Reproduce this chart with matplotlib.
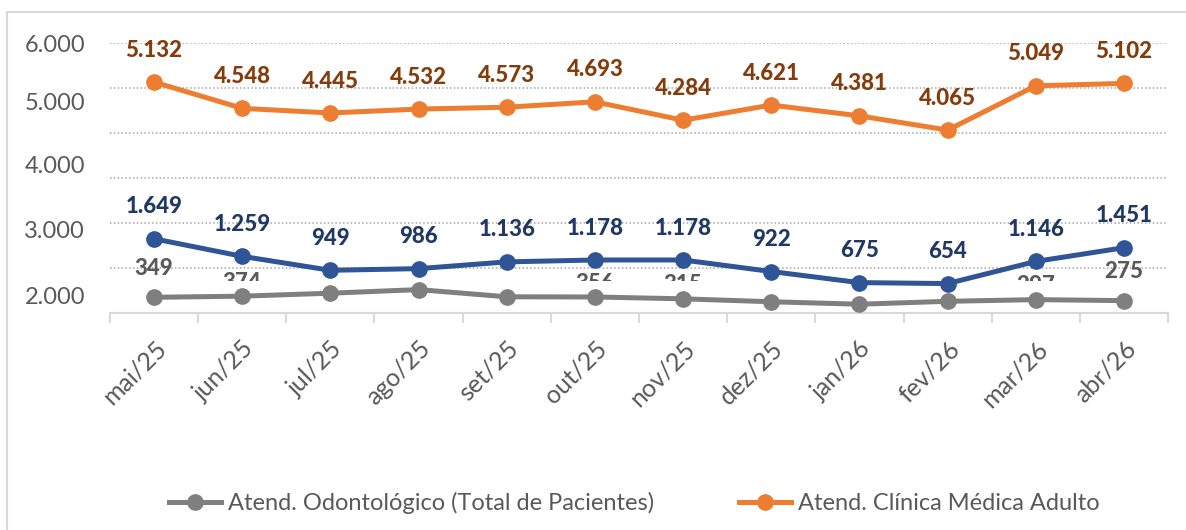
import matplotlib
matplotlib.use("Agg")
import matplotlib.pyplot as plt
from matplotlib.patches import Rectangle
from matplotlib.lines import Line2D

plt.rcParams['font.family'] = ['Lato', 'DejaVu Sans']

# data
meses = ['mai/25', 'jun/25', 'jul/25', 'ago/25', 'set/25', 'out/25',
         'nov/25', 'dez/25', 'jan/26', 'fev/26', 'mar/26', 'abr/26']
clinica = [5132, 4548, 4445, 4532, 4573, 4693, 4284, 4621, 4381, 4065, 5049, 5102]
terceira = [1649, 1259, 949, 986, 1136, 1178, 1178, 922, 675, 654, 1146, 1451]
odonto = [349, 374, 440, 520, 360, 356, 315, 250, 195, 260, 297, 275]

# which gray labels show up, and which are only half visible
odonto_full = [0, 11]
odonto_cut = [1, 5, 6, 10]

# y labels as they sit in the picture
ytick_pos = [6000, 4710, 3290, 1845, 400]
ytick_txt = ['6.000', '5.000', '4.000', '3.000', '2.000']

laranja = '#ED7D31'
azul = '#2F5597'
cinza = '#7F7F7F'


def fmt(v):
    return f"{v:,}".replace(',', '.')


def main():
    fig = plt.figure(figsize=(11.86, 5.30), dpi=100)
    ax = fig.add_axes([110 / 1186, 217 / 530, 1058 / 1186, 270 / 530])

    # outer frame of the chart box
    fig.add_artist(Line2D([7 / 1186, 1.0], [1 - 12 / 530, 1 - 12 / 530],
                          transform=fig.transFigure, color='#D9D9D9', lw=1.5))
    fig.add_artist(Line2D([7 / 1186, 7 / 1186], [0, 1 - 12 / 530],
                          transform=fig.transFigure, color='#D9D9D9', lw=1.5))

    x = list(range(len(meses)))

    for g in range(1000, 7000, 1000):
        ax.axhline(g, color='#A6A6A6', lw=1.1, ls=(0, (1, 1.5)), zorder=1)

    ax.plot(x, odonto, color=cinza, lw=3.6, marker='o', ms=11, zorder=3,
            label='Atend. Odontológico (Total de Pacientes)')
    ax.plot(x, clinica, color=laranja, lw=3.6, marker='o', ms=11, zorder=3,
            label='Atend. Clínica Médica Adulto')
    ax.plot(x, terceira, color=azul, lw=3.6, marker='o', ms=11, zorder=3)

    lbl = dict(textcoords='offset points', ha='center', va='center',
               fontsize=16, fontweight='black', annotation_clip=False)
    for i, v in enumerate(clinica):
        ax.annotate(fmt(v), (i, v), xytext=(0, 23), color='#843C0C', **lbl)
    for i, v in enumerate(terceira):
        ax.annotate(fmt(v), (i, v), xytext=(0, 23), color='#1F3864', **lbl)

    clip = Rectangle((-1, 711), 14, 7000, transform=ax.transData)
    for i in odonto_full:
        ax.annotate(fmt(odonto[i]), (i, odonto[i]), xytext=(0, 21),
                    color='#595959', **lbl)
    for i in odonto_cut:
        t = ax.annotate(fmt(odonto[i]), (i, odonto[i]), xytext=(0, 10),
                        color='#595959', **lbl)
        t.set_clip_path(clip)

    ax.set_xlim(-0.5, len(meses) - 0.5)
    ax.set_ylim(0, 6000)
    ax.set_xticks(x)
    ax.set_xticklabels(meses, rotation=45, ha='right', va='top',
                       rotation_mode='anchor', fontsize=18, color='#595959')
    ax.set_xticks([i - 0.5 for i in range(len(meses) + 1)], minor=True)
    ax.tick_params(axis='x', which='major', length=0, pad=17)
    ax.tick_params(axis='x', which='minor', length=7, width=1.5, color='#D9D9D9')
    ax.set_yticks(ytick_pos)
    ax.set_yticklabels(ytick_txt, fontsize=17, color='#595959')
    ax.tick_params(axis='y', length=0, pad=18)

    for s in ['top', 'right', 'left']:
        ax.spines[s].set_visible(False)
    ax.spines['bottom'].set_color('#D9D9D9')
    ax.spines['bottom'].set_linewidth(1.5)

    fig.legend(loc='center', bbox_to_anchor=(634 / 1186, 1 - 503 / 530), ncol=2,
               frameon=False, fontsize=17, labelcolor='#595959',
               handlelength=2.2, handletextpad=0.3, columnspacing=3.6)

    fig.savefig('out.png', dpi=100)


if __name__ == "__main__":
    main()
